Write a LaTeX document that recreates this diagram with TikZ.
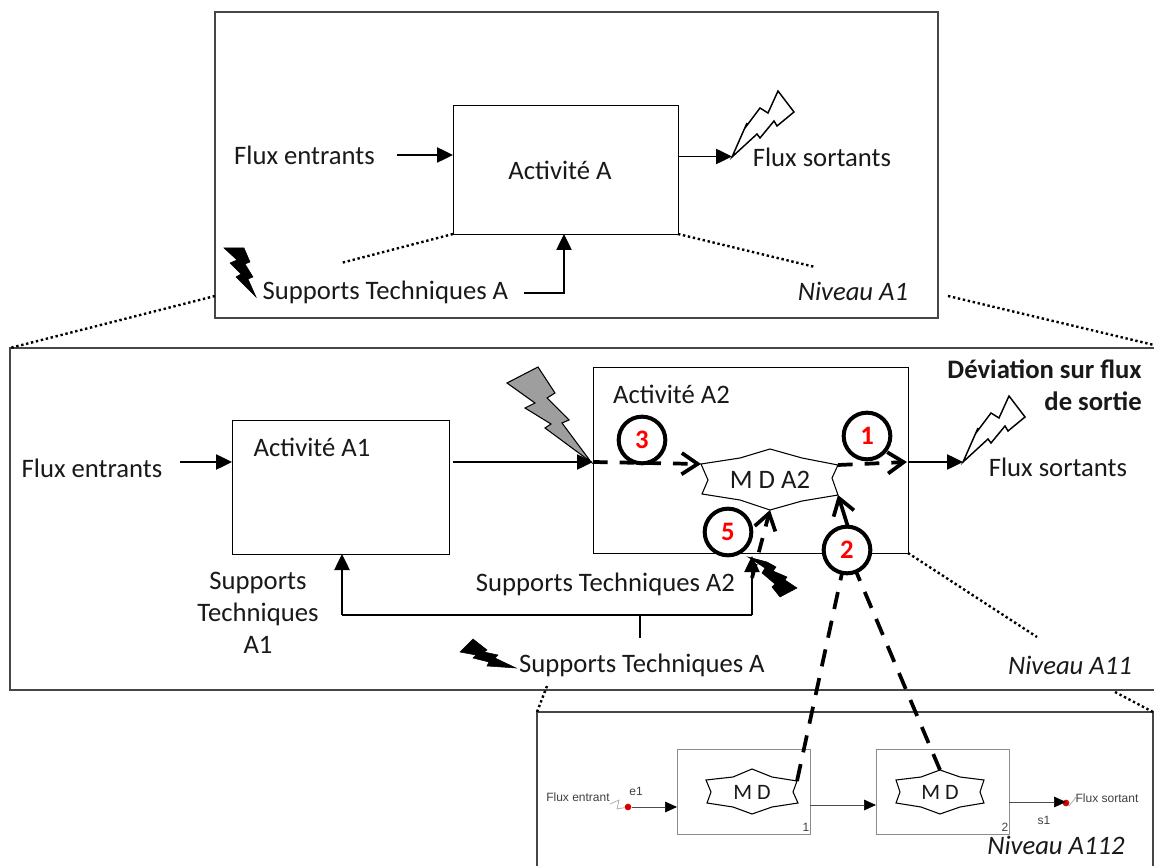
\documentclass[tikz,border=0pt]{standalone}
\usepackage{fontspec}
\setmainfont{Carlito}
\newfontfamily\smallsans{Liberation Sans}
\usetikzlibrary{arrows.meta}
\definecolor{frameg}{RGB}{70,70,70}
\definecolor{boxg}{RGB}{140,140,140}
\definecolor{thing}{RGB}{165,165,165}
\tikzset{
  x=0.75pt,y=-0.75pt,
  frame/.style={draw=frameg,line width=0.8pt,inner sep=0,outer sep=0},
  box/.style={draw=black,line width=0.65pt,inner sep=0,outer sep=0},
  smallbox/.style={draw=boxg,line width=0.7pt,inner sep=0,outer sep=0},
  txt/.style={inner sep=0,font=\fontsize{20pt}{24pt}\selectfont,text=black!90},
  itxt/.style={txt,font=\fontsize{20pt}{24pt}\selectfont\itshape},
  tiny/.style={inner sep=0,font=\fontsize{9pt}{10pt}\smallsans,text=black!75},
  flow/.style={line width=1pt,-{Triangle[length=12pt,width=11.5pt]}},
  plainflow/.style={line width=1pt},
  thinflow/.style={line width=0.5pt,draw=black!70,-{Triangle[length=9pt,width=8pt,fill=black,color=black]}},
  dots/.style={line width=1.8pt,dash pattern=on 1.8pt off 2pt},
  heavy/.style={line width=2.8pt,dash pattern=on 13pt off 9pt},
  heavyto/.style={line width=2.8pt,dash pattern=on 11pt off 9pt,-{Straight Barb[length=12pt,width=16pt,line width=2.8pt]}},
  num/.style={circle,draw=black,fill=white,line width=3pt,minimum size=35pt,inner sep=0,text=red,font=\fontsize{20pt}{22pt}\selectfont\bfseries},
  bolt/.style={fill=black,draw=black,line width=0.4pt},
  whitebolt/.style={draw=black,line width=1.1pt,fill=white,line join=miter},
  grayb/.style={draw=black,line width=0.8pt,fill=black!38},
  shapeMD/.style={draw=black,line width=0.8pt,fill=white},
  reddot/.style={circle,fill=red!85!black,inner sep=0,minimum size=5pt}
}
\begin{document}
\begin{tikzpicture}
\clip (0,0) rectangle (1154,866);
\fill[white] (0,0) rectangle (1154,866);

% frames
\node[frame,minimum width=723*0.75pt,minimum height=306*0.75pt] (frameA) at (576.5,165) {};
\node[frame,minimum width=1160*0.75pt,minimum height=342*0.75pt] (frameB) at (590,519) {};
\node[frame,minimum width=616*0.75pt,minimum height=190*0.75pt] (frameC) at (845,807) {};

% zoom lines
\coordinate (fa1) at (215,296);\coordinate (fa2) at (948,296);
\coordinate (fb1) at (10,348);\coordinate (fb2) at (1154,345);
\draw[dots] (fa1) -- (fb1);
\draw[dots] (fa2) -- (fb2);
\coordinate (sa1) at (547,686);\coordinate (sa2) at (537,712);
\coordinate (sb1) at (1115,692);\coordinate (sb2) at (1153,712);
\draw[dots] (sa1) -- (sa2);
\draw[dots] (sb1) -- (sb2);

% ---- level A1
\node[box,minimum width=225*0.75pt,minimum height=129*0.75pt] (actA) at (565.5,169.5) {};
\node[txt] (actAt) at (560,170) {Activité A};
\node[txt] (inA) at (304.5,155.5) {Flux entrants};
\node[txt] (outA) at (822,157.5) {Flux sortants};
\node[txt] (supA) at (385.5,292.5) {Supports Techniques A};
\node[itxt] (nivA) at (853,291) {Niveau A1};
\coordinate (inAs) at (397,155);
\draw[flow] (inAs) -- (inAs -| actA.west);
\coordinate (outAe) at (732,156.5);
\draw[flow] (outAe -| actA.east) -- (outAe);
\coordinate (dl1) at (341,263);\coordinate (dl2) at (815,267);
\draw[dots] (actA.south west) -- (dl1);
\draw[dots] (actA.south east) -- (dl2);
\coordinate (supAs) at (524,293);
\draw[flow] (supAs) -- (564,293) -- (564,234);
\draw[whitebolt] (732,157) -- (747,123) -- (745,128) -- (760,108) -- (768,113) -- (778,91) -- (794,112) -- (777,126) -- (774,121) -- (760,138) -- (757,134) -- cycle;
\draw[bolt] (224,248) -- (244,248) -- (250,262) -- (245,264) -- (253,277) -- (248,279) -- (256,297) -- (236,277) -- (241,274) -- (230,263) -- (237,260) -- cycle;

% ---- level A11
\node[box,minimum width=217*0.75pt,minimum height=134*0.75pt] (actA1) at (340.5,487) {};
\node[box,minimum width=315*0.75pt,minimum height=186*0.75pt] (actA2) at (750.5,460) {};
\node[txt] (actA1t) at (312,447) {Activité A1};
\node[txt] (actA2t) at (671.5,394) {Activité A2};
\node[txt] (inB) at (92,468) {Flux entrants};
\node[txt] (outB) at (1058,467) {Flux sortants};
\node[txt,align=center] (supA1) at (258,613) {Supports\\[0pt]Techniques\\[0pt]A1};
\node[txt] (supA2) at (605.5,584) {Supports Techniques A2};
\node[txt] (supB) at (642,665) {Supports Techniques A};
\node[itxt] (nivB) at (1070,665) {Niveau A11};
\node[txt,align=right,font=\fontsize{20pt}{24pt}\selectfont\bfseries,anchor=north east] (devi) at (1142,359) {Déviation sur flux\\de sortie};

\coordinate (inBs) at (180,462);
\draw[flow] (inBs) -- (inBs -| actA1.west);
\coordinate (a1a2) at (453,462);
\draw[flow] (a1a2) -- (a1a2 -| actA2.west);
\coordinate (outBe) at (963,462);
\draw[flow] (outBe -| actA2.east) -- (outBe);
\coordinate (dl3) at (1037,637);
\draw[dots] (actA2.south east) -- (dl3);

% supports lines
\coordinate (stemTop) at (640,615);\coordinate (stemEnd) at (640,638);
\coordinate (busL) at (342,615);\coordinate (busR) at (752,615);\coordinate (busTip) at (752,556);
\draw[plainflow] (stemEnd) -- (stemTop);
\draw[flow] (busL) -- (busL |- actA1.south);
\draw[plainflow] (busL) -- (busR);
\draw[flow] (busR) -- (busTip);

% bolts
\draw[grayb] (507,383) -- (538,367) -- (555,393) -- (547,398) -- (569,420) -- (562,423) -- (591,462) -- (545,428) -- (551,424) -- (525,408) -- (535,403) -- cycle;
\draw[whitebolt,shift={(231,305)}] (732,157) -- (747,123) -- (745,128) -- (760,108) -- (768,113) -- (778,91) -- (794,112) -- (777,126) -- (774,121) -- (760,138) -- (757,134) -- cycle;
\draw[bolt] (748,557) -- (767,562) -- (776,567) -- (773,571) -- (787,577) -- (785,580) -- (797,588) -- (780,597) -- (772,587) -- (775,584) -- (762,573) -- (765,568) -- cycle;
\draw[bolt] (516,668) -- (487,666) -- (489,662) -- (473,658) -- (476,655) -- (460,652) -- (473,639) -- (487,650) -- (484,652) -- (498,655) -- (495,658) -- cycle;

% M D A2 shape
\coordinate (mL) at (701,464);\coordinate (mR) at (838,465);
\coordinate (mB) at (770,510);\coordinate (mBR) at (838,495);
\draw[shapeMD] (mL) -- (740,458) -- (770,449) -- (802,458) -- (mR) -- (832,478) -- (mBR) -- (802,501) -- (mB) -- (740,500) -- (702,494) -- (708,480) -- cycle;
\node[txt] (mdA2) at (770,480) {M D A2};

% heavy arrows in A2
\coordinate (a2in) at (593,462);
\draw[heavyto] (a2in) -- (mL);
\coordinate (a2out) at (907,462);
\draw[heavyto] (mR) -- (a2out);
\coordinate (m5) at (752,578);
\draw[heavyto] (m5) -- (mB);
\coordinate (m2) at (848,527);
\draw[line width=2.8pt,-{Straight Barb[length=12pt,width=16pt,line width=2.8pt]}] (m2) -- (mBR);

% bottom level
\node[smallbox,minimum width=133*0.75pt,minimum height=85*0.75pt] (b1) at (743.5,791.5) {};
\node[smallbox,minimum width=133*0.75pt,minimum height=85*0.75pt] (b2) at (942.5,791.5) {};
\coordinate (md1a) at (797,781);\coordinate (md2a) at (940,770);
\draw[shapeMD] (706,780) -- (733,777) -- (752,769) -- (772,777) -- (md1a) -- (793,792) -- (798,803) -- (772,807) -- (752,814) -- (733,807) -- (707,803) -- (711,792) -- cycle;
\draw[shapeMD] (896,780) -- (921,777) -- (md2a) -- (960,777) -- (984,780) -- (980,792) -- (984,803) -- (960,807) -- (940,814) -- (921,807) -- (896,803) -- (900,792) -- cycle;
\node[txt,font=\fontsize{16.5pt}{18pt}\selectfont] (md1) at (752,792) {M D};
\node[txt,font=\fontsize{16.5pt}{18pt}\selectfont] (md2) at (940,792) {M D};
\node[tiny] (num1) at (806,827) {1};
\node[tiny] (num2) at (1005,827) {2};
\node[tiny] (fe) at (578,797) {Flux entrant};
\node[tiny] (fs) at (1107,798) {Flux sortant};
\node[tiny] (e1) at (636,791) {e1};
\node[tiny] (s1) at (1044,820) {s1};
\node[itxt] (nivC) at (1056,845) {Niveau A112};
\node[reddot] (d1) at (628,807) {};
\node[reddot] (d2) at (1066,803) {};
\coordinate (zz1) at (610,804);\coordinate (zz2) at (619,800);\coordinate (zz3) at (617,809);
\draw[thing,line width=0.5pt] (zz1) -- (zz2) -- (zz3) -- (d1);
\coordinate (zz4) at (1069,806);\coordinate (zz5) at (1076,797);
\draw[thing,line width=0.5pt] (d2) -- (zz4) -- (zz5);
\draw[thinflow] (d1) -- (d1 -| b1.west);
\coordinate (b12) at (810,805);
\draw[thinflow] (b12) -- (b12 -| b2.west);
\coordinate (b2o) at (1009,802);
\draw[thinflow] (b2o) -- (b2o -| d2.center);

% long heavy dashed
\coordinate (n2) at (847,550);
\draw[heavy] (md1a) -- (n2);
\draw[heavy] (md2a) -- (n2);

% circles
\node[num] (c3) at (642,440) {3};
\node[num] (c1) at (867,436) {1};
\node[num] (c5) at (728,532) {5};
\node[num] (c2) at (847,550) {2};
\end{tikzpicture}
\end{document}
